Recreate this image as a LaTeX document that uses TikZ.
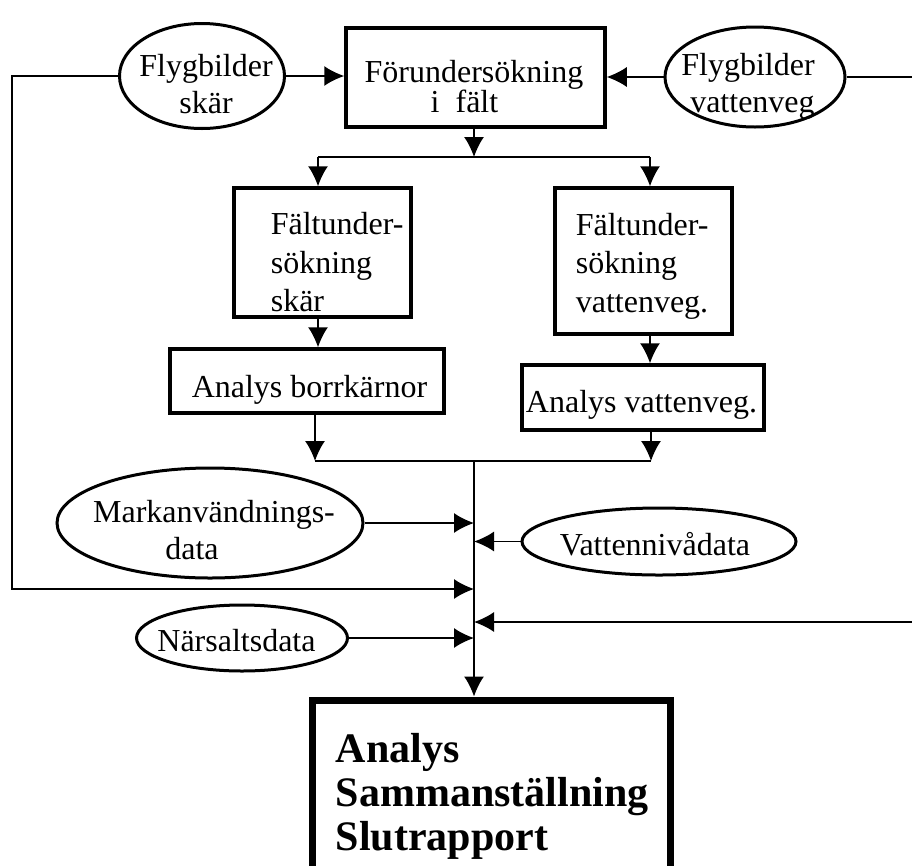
\documentclass[tikz,border=0pt]{standalone}
\usepackage{fontspec}
\setmainfont{Liberation Serif}
\usepackage{tikz}
\usetikzlibrary{fit}
\usetikzlibrary{arrows.meta}
\usetikzlibrary{shapes.geometric}

\tikzset{
	boxed/.style={draw, line width=3.5pt, inner sep=0pt},
	oval/.style={draw, ellipse, line width=3pt, inner sep=0pt},
	txt/.style={inner sep=0pt, font=\fontsize{32}{37}\selectfont},
	arr/.style={-{Latex[length=20pt,width=20pt]}},
}

\begin{document}
\begin{tikzpicture}[x=1pt, y=-1pt, line width=1.6pt]
	\useasboundingbox (0,0) rectangle (912,865);
	\clip (0,0) rectangle (912,865);

	\node[boxed, fit={(346,28) (605,127)}] (forund) {};	% Top
	\node[txt, align=center, font=\fontsize{32}{30}\selectfont] (forundtext) at (474,87) {Förundersökning\\i~ fält\hspace*{19pt}};
	\node[oval, minimum width=165pt, minimum height=105pt] (flygskar) at (202,76) {};
	\node[txt, align=center] (flygskartext) at (206,84) {Flygbilder\\skär};
	\node[oval, minimum width=180pt, minimum height=100pt] (flygvatten) at (755,77) {};
	\node[txt, align=right] (flygvattentext) at (748,86) {Flygbilder\\vattenveg};

	\node[boxed, fit={(234,188) (411,317)}] (faltskar) {};	% Field
	\node[txt, align=left, anchor=west, font=\fontsize{32}{38.5}\selectfont] (faltskartext) at (270,262.5) {Fältunder-\\sökning\\skär};
	\node[boxed, fit={(555,188) (732,334)}] (faltvatten) {};
	\node[txt, align=left, anchor=west, font=\fontsize{32}{38.5}\selectfont] (faltvattentext) at (575,266) {Fältunder-\\sökning\\vattenveg.};

	\node[boxed, fit={(170,349) (444,413)}] (borr) {};	% Analysis
	\node[txt] (borrtext) at (309.5,389.5) {Analys borrkärnor};
	\node[boxed, fit={(522,365) (764,430)}] (analysvatten) {};
	\node[txt] (analysvattentext) at (641.5,404.5) {Analys vattenveg.};

	\node[oval, minimum width=306pt, minimum height=110pt] (markanv) at (210,523) {};	% Data
	\node[txt, align=center] (markanvtext) at (214,530.5) {Markanvändnings-\\data\hspace*{44pt}};
	\node[oval, minimum width=274pt, minimum height=67pt] (vattenniva) at (659,541.5) {};
	\node[txt] (vattennivatext) at (655,544) {Vattennivådata};
	\node[oval, minimum width=211pt, minimum height=66pt] (narsalt) at (242,638) {};
	\node[txt] (narsalttext) at (236.5,641) {Närsaltsdata};

	\node[draw, line width=7pt, inner sep=0pt, fit={(312,700) (670,920)}] (slut) {};	% Report
	\node[txt, align=left, anchor=west, font=\bfseries\fontsize{42}{44}\selectfont] (sluttext) at (335,796) {Analys\\Sammanställning\\Slutrapport};

	\coordinate (split) at (474,157);
	\coordinate (splitL) at (318,157);
	\coordinate (splitR) at (650,157);
	\coordinate (merge) at (474,461);
	\coordinate (mergeL) at (315,461);
	\coordinate (mergeR) at (651,461);
	\coordinate (leftbend) at (12,76);
	\coordinate (rightbend) at (940,77);
	\coordinate (inLeft) at (474,589);
	\coordinate (inRight) at (474,622);

	\draw[arr] (flygskar.east) -- (flygskar.east -| forund.west);	% Arrows
	\draw[arr] (flygvatten.west) -- (flygvatten.west -| forund.east);
	\draw[arr] (split |- forund.south) -- (split);
	\draw (splitL) -- (splitR);
	\draw[arr] (splitL) -- (splitL |- faltskar.north);
	\draw[arr] (splitR) -- (splitR |- faltvatten.north);
	\draw[arr] (splitL |- faltskar.south) -- (splitL |- borr.north);
	\draw[arr] (splitR |- faltvatten.south) -- (splitR |- analysvatten.north);
	\draw[arr] (mergeL |- borr.south) -- (mergeL);
	\draw[arr] (mergeR |- analysvatten.south) -- (mergeR);
	\draw (mergeL) -- (mergeR);
	\draw[arr] (merge) -- (merge |- slut.north);
	\draw[arr] (markanv.east) -- (markanv.east -| merge);
	\draw[arr] (vattenniva.west) -- (vattenniva.west -| merge);
	\draw[arr] (narsalt.east) -- (narsalt.east -| merge);
	\draw[arr] (flygskar.west) -- (leftbend) |- (inLeft);
	\draw[arr] (flygvatten.east) -- (rightbend) |- (inRight);
\end{tikzpicture}
\end{document}
